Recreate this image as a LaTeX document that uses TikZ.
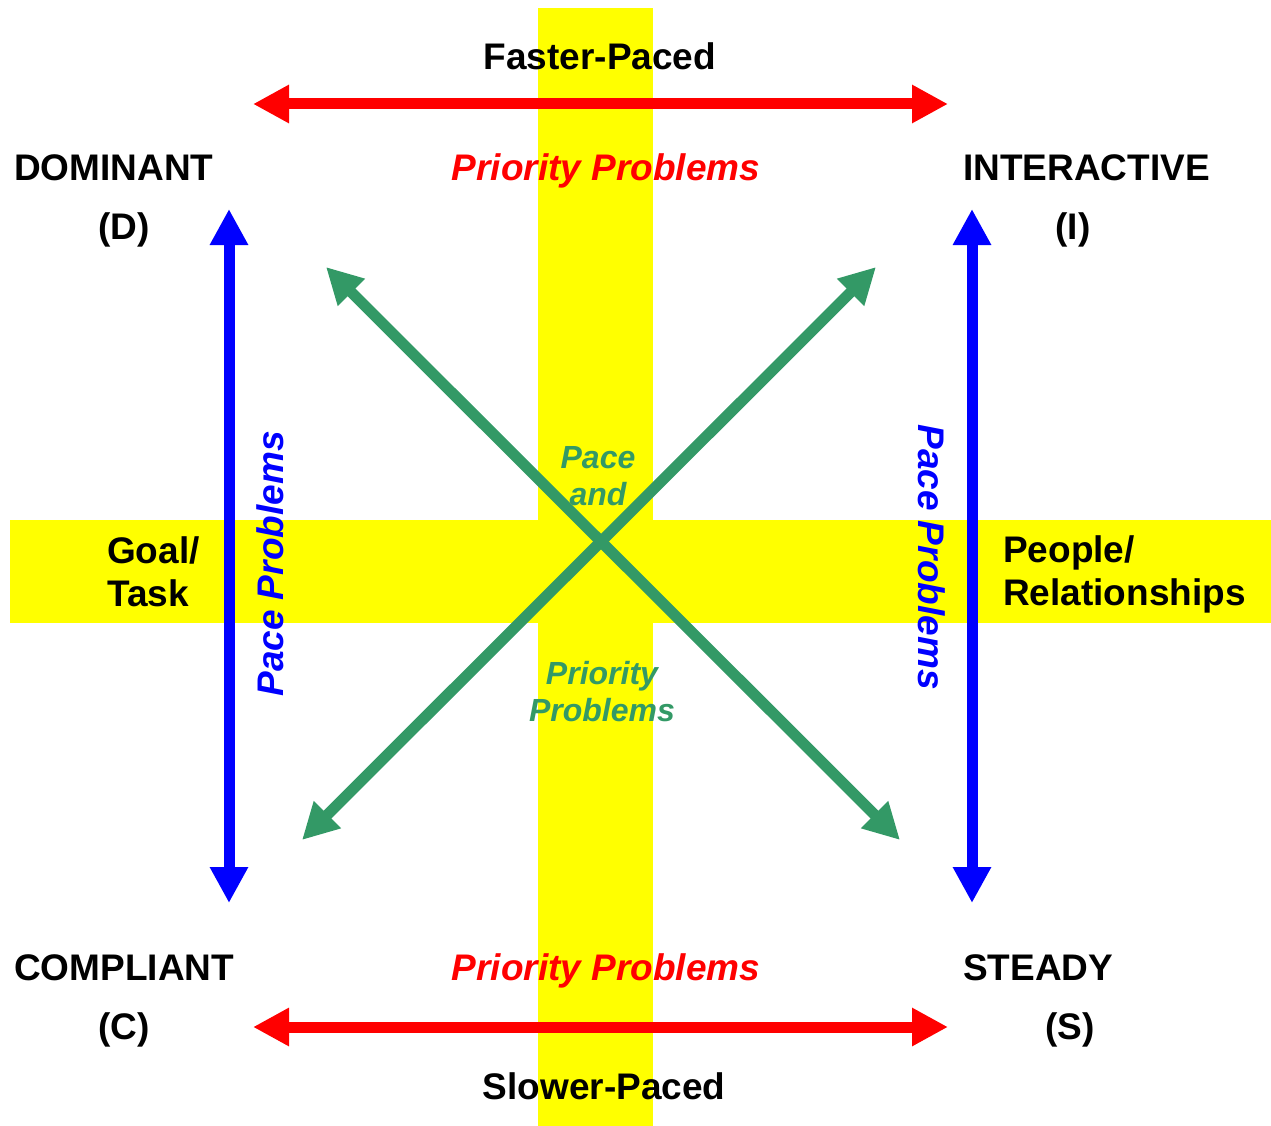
\documentclass[tikz,border=0pt]{standalone}
\usepackage{fontspec}
\setmainfont{Liberation Sans}
\usepackage{xcolor}
\usepackage{tikz}
\usetikzlibrary{arrows.meta, positioning}

\definecolor{band}{RGB}{255,255,0}
\definecolor{pacegreen}{RGB}{51,153,102}

\begin{document}
\begin{tikzpicture}[x=1pt, y=-1pt,
  lbl/.style={inner sep=0pt, font=\fontsize{37}{43}\selectfont\bfseries},
  prio/.style={inner sep=0pt, red, font=\fontsize{37}{43}\selectfont\bfseries\itshape},
  pace/.style={inner sep=0pt, blue, font=\fontsize{37}{43}\selectfont\bfseries\itshape},
  mid/.style={inner sep=0pt, pacegreen, align=center, font=\fontsize{32}{37}\selectfont\bfseries\itshape},
  dbl/.style={line width=11pt, {Triangle[length=36pt,width=36pt]}-{Triangle[length=36pt,width=36pt]}}]
\useasboundingbox (0,0) rectangle (1271,1126);
% yellow cross
\fill[band] (538,8) rectangle (653,1126);
\fill[band] (10,520) rectangle (1271,623);
% arrow ends
\coordinate (fastL) at (253,104);
\coordinate (fastR) at (948,104);
\coordinate (slowL) at (253,1027);
\coordinate (slowR) at (948,1027);
\coordinate (taskT) at (229,209);
\coordinate (taskB) at (229,903);
\coordinate (peopT) at (972,209);
\coordinate (peopB) at (972,903);
\coordinate (dom) at (326,267);
\coordinate (ste) at (900,840);
\coordinate (inter) at (876,267);
\coordinate (com) at (302,840);
% labels
\node[lbl] (faster) at (600,56) {Faster-Paced};
\node[lbl] (slower) at (604,1086) {Slower-Paced};
\node[prio] (prioT) at (606,171) {Priority Problems};
\node[prio] (prioB) at (606,971) {Priority Problems};
\node[lbl, anchor=west] (dominant) at (14,168) {DOMINANT};
\node[lbl] (d) at (124,230) {(D)};
\node[lbl, anchor=west] (interactive) at (963,168) {INTERACTIVE};
\node[lbl] (i) at (1073,230) {(I)};
\node[lbl, anchor=west] (compliant) at (14,968) {COMPLIANT};
\node[lbl] (c) at (124,1030) {(C)};
\node[lbl, anchor=west] (steady) at (963,968) {STEADY};
\node[lbl] (s) at (1070,1030) {(S)};
\node[lbl, anchor=west, align=left] (goal) at (107,572) {Goal/\\Task};
\node[lbl, anchor=west, align=left] (people) at (1003,574) {People/\\Relationships};
\node[pace, rotate=90] (paceL) at (270,564) {Pace Problems};
\node[pace, rotate=-90] (paceR) at (932,557) {Pace Problems};
\node[mid] (paceand) at (598,476) {Pace\\and};
\node[mid] (priomid) at (602,692) {Priority\\Problems};
% arrows
\draw[dbl, red] (fastL) -- (fastR);
\draw[dbl, red] (slowL) -- (slowR);
\draw[dbl, blue] (taskT) -- (taskB);
\draw[dbl, blue] (peopT) -- (peopB);
\draw[dbl, pacegreen] (dom) -- (ste);
\draw[dbl, pacegreen] (inter) -- (com);
\end{tikzpicture}
\end{document}
